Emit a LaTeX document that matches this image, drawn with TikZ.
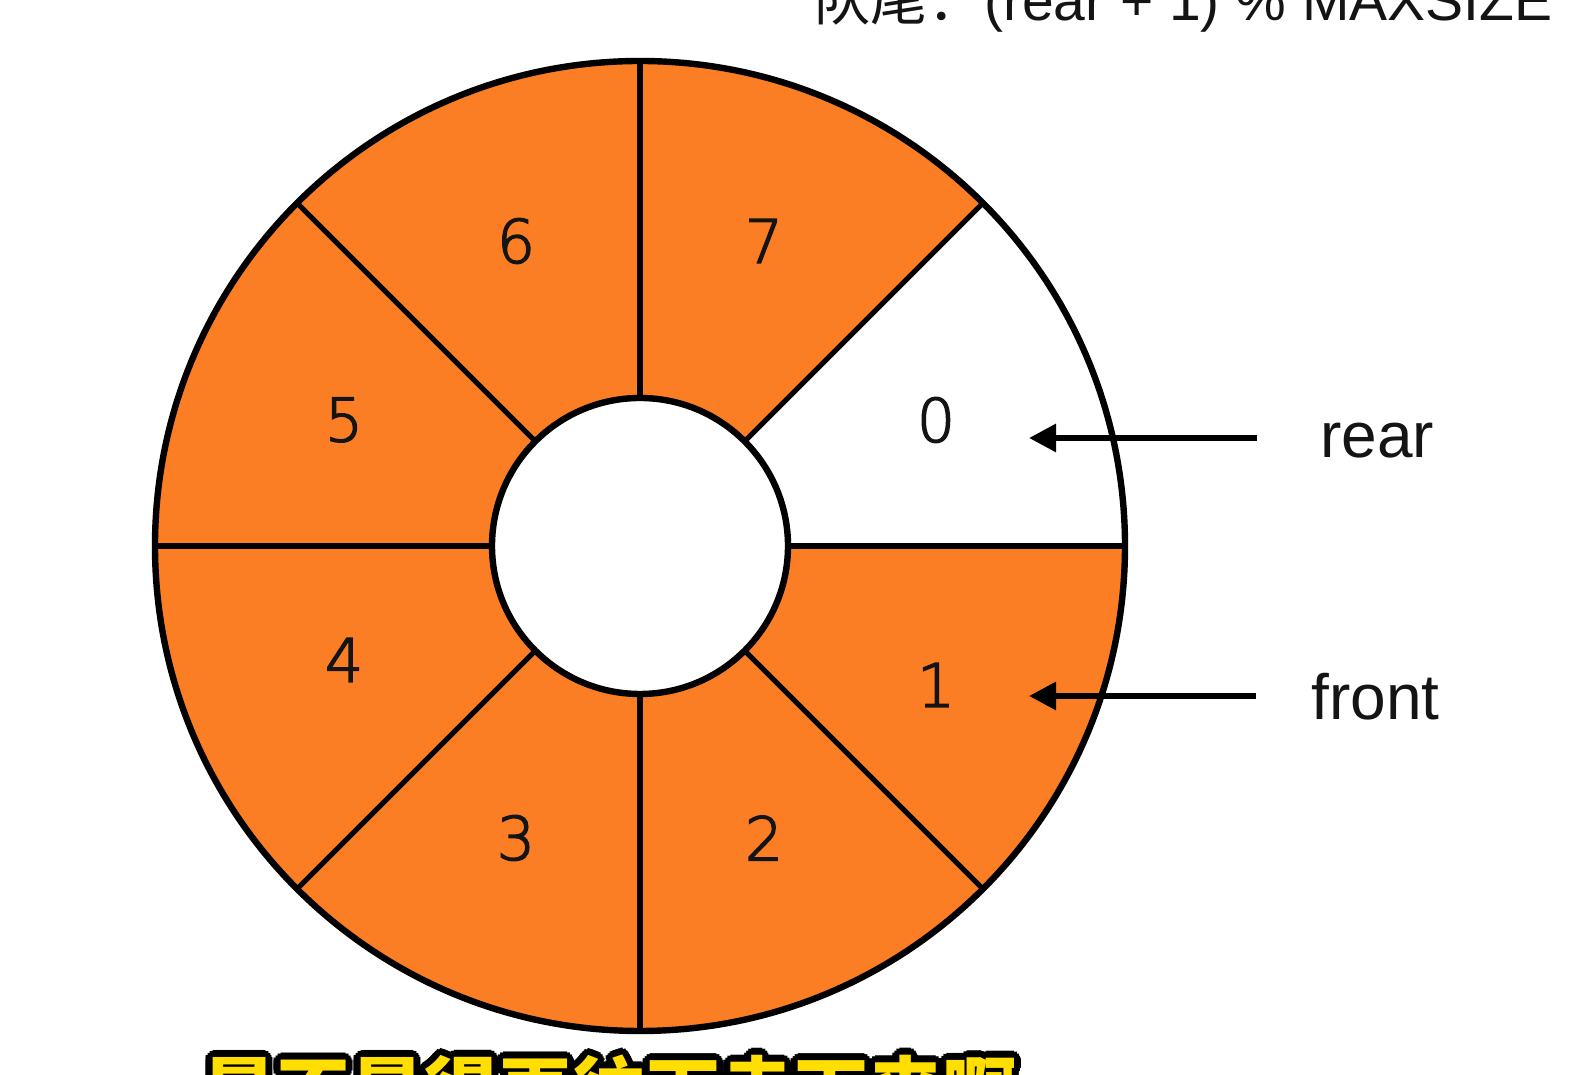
\documentclass[tikz,border=0pt]{standalone}
\usepackage{fontspec}
\setmainfont{Liberation Sans}
\newfontfamily\cjk{Noto Sans CJK SC}
\newfontfamily\digitfont[FakeBold=2.5]{DejaVu Sans ExtraLight}
\usetikzlibrary{arrows.meta,calc}
\definecolor{segorange}{RGB}{252,126,36}
\definecolor{subyellow}{RGB}{255,222,0}
\definecolor{inkblack}{RGB}{20,20,20}
\tikzset{
  ring/.style={line width=3.2pt, draw=black},
  spoke/.style={line width=2.6pt, draw=black},
  digit/.style={font=\digitfont\fontsize{30}{30}\selectfont, text=inkblack, inner sep=0pt},
  ptr/.style={line width=3pt, -{Triangle[length=13.5pt,width=13.5pt]}},
  ptrlabel/.style={font=\fontsize{32}{32}\selectfont, text=inkblack, inner sep=0pt, anchor=west},
  formula/.style={font=\fontsize{28.5}{28.5}\selectfont, text=inkblack, inner sep=0pt, anchor=base east},
  subtitle/.style={font=\cjk\bfseries\fontsize{37}{37}\selectfont, inner sep=0pt, anchor=base west}
}
\begin{document}
\begin{tikzpicture}[x=0.5pt,y=0.5pt]
\useasboundingbox (0,0) rectangle (1586,1075);
\fill[white] (0,0) rectangle (1586,1075);
\clip (0,0) rectangle (1586,1075);

% ring of segments
\coordinate (c) at (640,529);
\begin{scope}[shift={(c)}]
  \foreach \a in {45,90,...,315}
    \fill[segorange] (\a:148) -- (\a:485) arc[start angle=\a, delta angle=45, radius=485]
      -- ({\a+45}:148) arc[start angle=\a+45, delta angle=-45, radius=148] -- cycle;
  \foreach \a in {0,45,...,315}
    \draw[spoke] (\a:148) -- (\a:485);
  \draw[ring] (0,0) circle[radius=485];
  \draw[ring, fill=white] (0,0) circle[radius=148];
\end{scope}

% segment numbers
\node[digit] (n0) at (936,655) {0};
\node[digit] (n1) at (936,390) {1};
\node[digit] (n2) at (764,237) {2};
\node[digit] (n3) at (516,237) {3};
\node[digit] (n4) at (344,415) {4};
\node[digit] (n5) at (344,655) {5};
\node[digit] (n6) at (516,834) {6};
\node[digit] (n7) at (764,834) {7};

% pointers
\node[ptrlabel] (rear) at (1320,634) {rear};
\node[ptrlabel] (front) at (1311,378) {front};
\coordinate (reartip) at (1029,637);
\coordinate (fronttip) at (1029,379);
\draw[ptr] (rear.west |- reartip) ++(-63,0) -- (reartip);
\draw[ptr] (front.west |- fronttip) ++(-55,0) -- (fronttip);

% formula (cut off at top)
\node[formula] (formula) at (1553,1054) {{\cjk 队尾：}(rear + 1) \% MAXSIZE};

% subtitle (cut off at bottom)
\coordinate (subpos) at (202,-44);
\foreach \a in {0,22.5,...,337.5}
  \node[subtitle, text=black] at ([shift={(\a:7)}]subpos) {是不是得再往下走下来啊};
\node[subtitle, text=subyellow] (sub) at (subpos) {是不是得再往下走下来啊};
\end{tikzpicture}
\end{document}
